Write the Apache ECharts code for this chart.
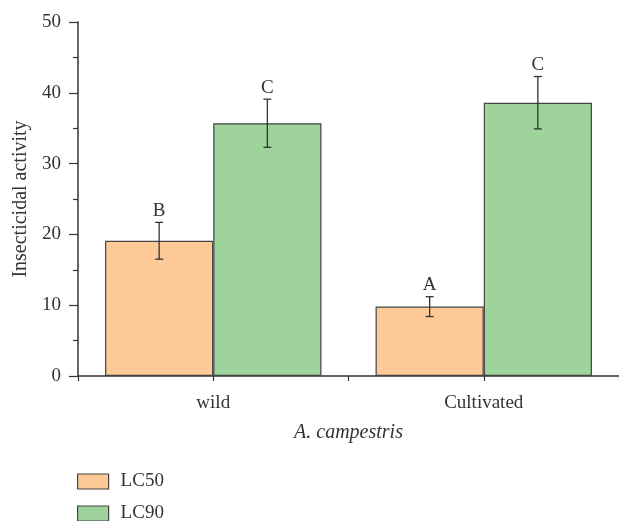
<!DOCTYPE html>
<html><head><meta charset="utf-8">
<script src="https://cdn.jsdelivr.net/npm/echarts@6/dist/echarts.min.js"></script>
<style>html,body{margin:0;padding:0;background:#fff}#c{width:619px;height:521px}</style>
</head><body><div id="c"></div>
<script>
const categories = ['wild', 'Cultivated'];
const seriesNames = ['LC50', 'LC90'];
const lc50 = [19.1, 9.8];
const lc90 = [35.7, 38.6];
const lc50Err = [2.6, 1.4];
const lc90Err = [3.4, 3.7];
const lc50Letters = ['B', 'A'];
const lc90Letters = ['C', 'C'];
const yTicks = [0, 10, 20, 30, 40, 50];

const font = 'Liberation Serif';
const fs = 19;
const chart = echarts.init(document.getElementById('c'));

function errSeries(vals, errs, letters, idx) {
  return {
    type: 'custom',
    xAxisIndex: 0,
    yAxisIndex: 0,
    z: 10,
    data: vals.map((v, i) => [i, v, errs[i]]),
    renderItem: function (params, api) {
      const ci = api.value(0);
      const v = api.value(1), e = api.value(2);
      const base = api.coord([ci, v]);
      const bw = api.size([1, 0])[0];
      const barW = bw * 0.8 / 2;
      const x = base[0] + (idx === 0 ? -barW / 2 : barW / 2);
      const top = api.coord([ci, v + e])[1];
      const bot = api.coord([ci, v - e])[1];
      const cap = 4;
      const st = { stroke: '#333', lineWidth: 1.3 };
      return {
        type: 'group',
        children: [
          { type: 'line', shape: { x1: x, y1: top, x2: x, y2: bot }, style: st },
          { type: 'line', shape: { x1: x - cap, y1: top, x2: x + cap, y2: top }, style: st },
          { type: 'line', shape: { x1: x - cap, y1: bot, x2: x + cap, y2: bot }, style: st },
          { type: 'text', x: x, y: top - 2, style: { text: letters[params.dataIndex], fill: '#333', font: fs + 'px "' + font + '"', align: 'center', verticalAlign: 'bottom' } }
        ]
      };
    }
  };
}

const legendCommon = {
  orient: 'vertical', left: 77, itemWidth: 31, itemHeight: 15, icon: 'rect',
  textStyle: { fontFamily: font, fontSize: fs, color: '#333', padding: [0, 0, 0, 7] },
  itemStyle: { borderColor: '#444', borderWidth: 1.2 }, padding: 0
};

chart.setOption({
  animation: false,
  grid: { left: 78, right: 0, top: 22, bottom: 145 },
  legend: [
    Object.assign({}, legendCommon, { top: 472, data: [seriesNames[0]] }),
    Object.assign({}, legendCommon, { top: 504, data: [seriesNames[1]] })
  ],
  xAxis: [{
    type: 'category', data: categories,
    axisLine: { lineStyle: { color: '#333', width: 1.5 } },
    axisTick: { show: false },
    axisLabel: { fontFamily: font, fontSize: fs, color: '#333', margin: 18 },
    name: 'A. campestris', nameLocation: 'middle', nameGap: 47,
    nameTextStyle: { fontFamily: font, fontSize: fs + 1, fontStyle: 'italic', color: '#333' }
  }, {
    type: 'value', min: 0, max: 2, interval: 0.5, position: 'bottom',
    axisLine: { show: false }, axisLabel: { show: false }, splitLine: { show: false },
    axisTick: { show: true, inside: false, length: 5, lineStyle: { color: '#333', width: 1.2 } }
  }],
  yAxis: {
    type: 'value', min: 0, max: 50, interval: 10,
    axisLine: { show: true, lineStyle: { color: '#333', width: 1.5 } },
    axisTick: { show: true, length: 9, lineStyle: { color: '#333', width: 1.2 } },
    minorTick: { show: true, splitNumber: 2, length: 5, lineStyle: { color: '#333', width: 1.2 } },
    splitLine: { show: false },
    axisLabel: { fontFamily: font, fontSize: fs, color: '#333', margin: 17 },
    name: 'Insecticidal activity', nameLocation: 'middle', nameGap: 46,
    nameTextStyle: { fontFamily: font, fontSize: 20, color: '#333' }
  },
  series: [
    { name: seriesNames[0], type: 'bar', data: lc50, barGap: '0%', barCategoryGap: '20%',
      itemStyle: { color: '#FDC996', borderColor: '#444', borderWidth: 1.2 } },
    { name: seriesNames[1], type: 'bar', data: lc90, barGap: '0%', barCategoryGap: '20%',
      itemStyle: { color: '#9ED39B', borderColor: '#444', borderWidth: 1.2 } },
    errSeries(lc50, lc50Err, lc50Letters, 0),
    errSeries(lc90, lc90Err, lc90Letters, 1)
  ]
});
</script></body></html>
